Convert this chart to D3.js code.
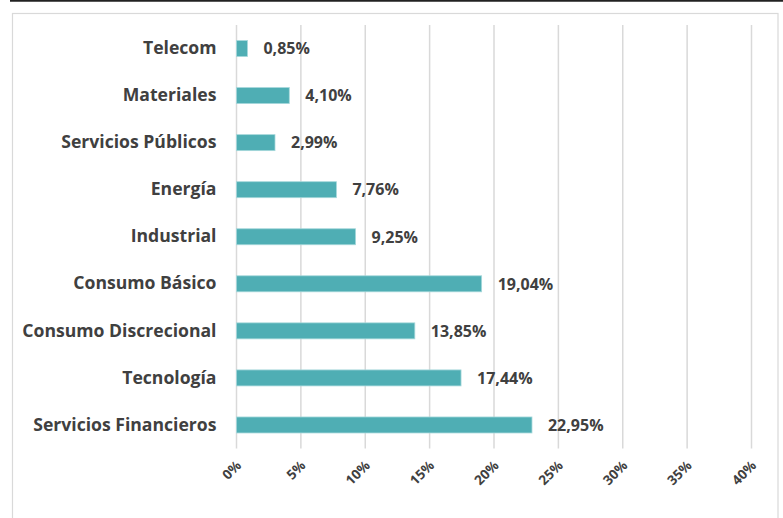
<!DOCTYPE html>
<html><head><meta charset="utf-8">
<script src="https://cdn.jsdelivr.net/npm/d3@7"></script>
<style>
html,body{margin:0;padding:0;background:#fff;}
svg{display:block;}
text{font-family:"Open Sans",Lato,sans-serif;font-weight:bold;fill:#404040;}
</style></head>
<body>
<svg id="c" width="783" height="518"></svg>
<script>
const categories = ["Telecom","Materiales","Servicios Públicos","Energía","Industrial","Consumo Básico","Consumo Discrecional","Tecnología","Servicios Financieros"];
const values = [0.85,4.10,2.99,7.76,9.25,19.04,13.85,17.44,22.95];
const ticks = [0,5,10,15,20,25,30,35,40];

const svg = d3.select("#c");
const W = 783, H = 518;
const m = {left:236.5, right:751.5, top:25, bottom:448.5};
const FONT = "'Open Sans',Lato,sans-serif";

// top dark rule
svg.append("line").attr("x1",10).attr("x2",W).attr("y1",0.8).attr("y2",0.8)
  .attr("stroke","#222").attr("stroke-width",1.8);
// chart border
svg.append("rect").attr("x",12.5).attr("y",13.5).attr("width",765.5).attr("height",H+10)
  .attr("fill","none").attr("stroke","#d9d9d9").attr("stroke-width",1.2);

const x = d3.scaleLinear().domain([0,40]).range([m.left,m.right]);
const y = d3.scaleBand().domain(categories).range([m.top,m.bottom]).paddingInner(0.66).paddingOuter(0.33);

// gridlines
svg.append("g").selectAll("line").data(ticks).join("line")
  .attr("x1",d=>x(d)).attr("x2",d=>x(d)).attr("y1",m.top).attr("y2",m.bottom)
  .attr("stroke","#d9d9d9").attr("stroke-width",1.5);

// x tick labels rotated
const xAxis = d3.axisBottom(x).tickValues(ticks).tickFormat(d=>d+"%").tickSize(0).tickPadding(0);
const gx = svg.append("g").attr("transform",`translate(0,${m.bottom})`).call(xAxis);
gx.select(".domain").remove();
gx.selectAll("text")
  .attr("text-anchor","end").attr("dy",null).attr("y",null)
  .attr("transform","translate(5,18) rotate(-45)")
  .style("font-size","13.5px").style("font-family",FONT)
  .style("font-weight","bold").attr("fill","#404040");

// y category labels
const yAxis = d3.axisLeft(y).tickSize(0).tickPadding(20);
const gy = svg.append("g").attr("transform",`translate(${m.left},0)`).call(yAxis);
gy.select(".domain").remove();
gy.selectAll("text").style("font-size","17.6px").style("font-family",FONT)
  .style("font-weight","bold").attr("fill","#404040");

// bars
svg.append("g").selectAll("rect").data(values).join("rect")
  .attr("x",x(0)).attr("y",(d,i)=>y(categories[i]))
  .attr("width",d=>x(d)-x(0)).attr("height",y.bandwidth())
  .attr("fill","#4faeb4").attr("stroke","#a6d8db").attr("stroke-width",0.8);

// value labels
const fmt = d => d.toFixed(2).replace(".",",")+"%";
svg.append("g").selectAll("text").data(values).join("text")
  .attr("x",d=>x(d)+16).attr("y",(d,i)=>y(categories[i])+y.bandwidth()/2)
  .attr("dy","0.36em").style("font-size","16px").style("font-family",FONT).text(fmt);
</script>
</body></html>
